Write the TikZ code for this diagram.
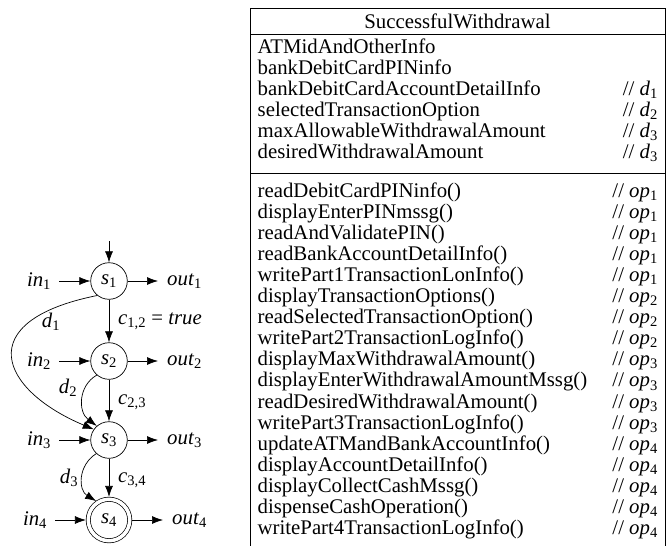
\documentclass[tikz,border=0pt]{standalone}
\usepackage{fontspec}
\setmainfont{Liberation Serif}
\usetikzlibrary{arrows.meta}
\newcommand\vsub[2]{\textit{#1}\textsubscript{#2}}
\begin{document}
\begin{tikzpicture}[x=1pt,y=-1pt, font=\fontsize{20.8}{22}\selectfont,
  state/.style={draw, circle, minimum size=36.6pt, inner sep=0pt, line width=0.7pt},
  accstate/.style={draw, circle, double, double distance=3.5pt, minimum size=41.5pt, inner sep=0pt, line width=0.7pt},
  arr/.style={-{Latex[length=11pt,width=8pt]}, line width=0.7pt},
  lbl/.style={inner sep=0pt},
  row/.style={anchor=base west, inner sep=0pt},
  cmt/.style={anchor=base east, inner sep=0pt},
  rule/.style={line width=0.8pt}]
\useasboundingbox (0,0) rectangle (667,546);
% ---------- state graph ----------
\node[state] (s1) at (109,281) {\vsub{s}{1}};
\node[state] (s2) at (109,361) {\vsub{s}{2}};
\node[state] (s3) at (109,440) {\vsub{s}{3}};
\node[accstate] (s4) at (109,520) {\vsub{s}{4}};
\coordinate (top) at (109,241);
\node[lbl] (in1) at (39,281) {\vsub{in}{1}};
\node[lbl] (in2) at (39,361) {\vsub{in}{2}};
\node[lbl] (in3) at (39,440) {\vsub{in}{3}};
\node[lbl] (in4) at (35,520) {\vsub{in}{4}};
\node[lbl, anchor=west] (out1) at (167,281) {\vsub{out}{1}};
\node[lbl, anchor=west] (out2) at (167,361) {\vsub{out}{2}};
\node[lbl, anchor=west] (out3) at (167,440) {\vsub{out}{3}};
\node[lbl, anchor=west] (out4) at (172,520) {\vsub{out}{4}};
\node[lbl, anchor=west] (c12) at (118,321) {\vsub{c}{1,2} = \textit{true}};
\node[lbl, anchor=west] (c23) at (118,402) {\vsub{c}{2,3}};
\node[lbl, anchor=west] (c34) at (118,480) {\vsub{c}{3,4}};
\node[lbl] (d1) at (51,322) {\vsub{d}{1}};
\node[lbl] (d2) at (68,388) {\vsub{d}{2}};
\node[lbl] (d3) at (69,478) {\vsub{d}{3}};
\draw[arr] (top) -- (s1);
\draw[arr] (s1) -- (s2);
\draw[arr] (s2) -- (s3);
\draw[arr, shorten >=2pt] (s3) -- (s4);
\foreach \i in {1,2,3} {
  \draw[arr, shorten <=8pt] (in\i) -- (s\i);
  \draw[arr, shorten >=9pt] (s\i) -- (out\i);
}
\draw[arr, shorten <=8pt, shorten >=2pt] (in4) -- (s4);
\draw[arr, shorten <=2pt, shorten >=9pt] (s4) -- (out4);
\draw[arr] (s1.231) .. controls (-30,321) and (0,390) .. (s3.145);
\draw[arr] (s2.229) .. controls (78,386) and (78,412) .. (s3.131);
\draw[arr, shorten >=2pt] (s3.227) .. controls (78,465) and (78,490) .. (s4.122);
% ---------- class box ----------
\draw[rule] (250,546) -- (250,8) -- (665,8) -- (665,546);
\draw[rule] (250,34) -- (665,34);
\draw[rule] (250,173.5) -- (665,173.5);
\node[anchor=base, inner sep=0pt] (title) at (457.5,28) {SuccessfulWithdrawal};
\node[row] (a1) at (257.5,53) {ATMidAndOtherInfo};
\node[row] (a2) at (257.5,74) {bankDebitCardPINinfo};
\node[row] (a3) at (257.5,95) {bankDebitCardAccountDetailInfo};
\node[row] (a4) at (257.5,116) {selectedTransactionOption};
\node[row] (a5) at (257.5,137) {maxAllowableWithdrawalAmount};
\node[row] (a6) at (257.5,158) {desiredWithdrawalAmount};
\node[cmt] (ca3) at (658,95) {// \vsub{d}{1}};
\node[cmt] (ca4) at (658,116) {// \vsub{d}{2}};
\node[cmt] (ca5) at (658,137) {// \vsub{d}{3}};
\node[cmt] (ca6) at (658,158) {// \vsub{d}{3}};
\foreach [count=\k from 0] \t/\o in {
  readDebitCardPINinfo()/1,
  displayEnterPINmssg()/1,
  readAndValidatePIN()/1,
  readBankAccountDetailInfo()/1,
  writePart1TransactionLonInfo()/1,
  displayTransactionOptions()/2,
  readSelectedTransactionOption()/2,
  writePart2TransactionLogInfo()/2,
  displayMaxWithdrawalAmount()/3,
  displayEnterWithdrawalAmountMssg()/3,
  readDesiredWithdrawalAmount()/3,
  writePart3TransactionLogInfo()/3,
  updateATMandBankAccountInfo()/4,
  displayAccountDetailInfo()/4,
  displayCollectCashMssg()/4,
  dispenseCashOperation()/4,
  writePart4TransactionLogInfo()/4} {
  \node[row] (op\k) at (257.5,197+21.1*\k) {\t};
  \node[cmt] (cop\k) at (658,197+21.1*\k) {// \vsub{op}{\o}};
}
\end{tikzpicture}
\end{document}
